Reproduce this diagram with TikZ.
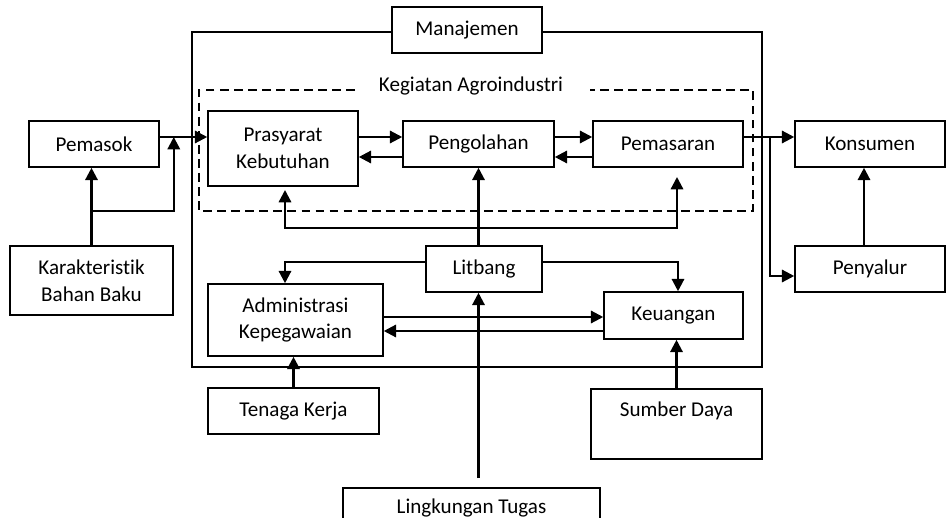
\documentclass[tikz,border=0pt]{standalone}
\usepackage{fontspec}
\setmainfont{Carlito}[Ligatures={NoCommon}]
\usetikzlibrary{arrows.meta}
\begin{document}
\begin{tikzpicture}[x=0.02cm,y=-0.02cm,
  box/.style={draw,line width=0.9pt,fill=white,inner sep=0pt,align=center,
    font=\fontsize{12}{15.2}\selectfont},
  arr/.style={line width=1.3pt,-{Triangle[length=7pt,width=7pt]}},
  frame/.style={line width=0.7pt},
  zone/.style={line width=0.9pt,dash pattern=on 5pt off 3pt}]
\useasboundingbox (0,0) rectangle (946,517);

% management frame and the dashed agro-industry zone
\draw[frame] (192,32) rectangle (762,367);
\draw[zone] (355,90) -- (199,90) -- (199,211) -- (753,211) -- (753,90) -- (590,90);
\node[font=\fontsize{12}{15.2}\selectfont] (zonelabel) at (471,86) {Kegiatan Agroindustri};

% boxes
\node[box,minimum width=3cm,minimum height=0.92cm] (man) at (467,30) {Manajemen};
\node[box,minimum width=3cm,minimum height=1.5cm] (pras) at (283,148.5) {Prasyarat\\Kebutuhan};
\node[box,minimum width=3.02cm,minimum height=0.92cm] (peng) at (478.5,144) {Pengolahan};
\node[box,minimum width=3cm,minimum height=0.92cm] (pemas) at (668,144) {Pemasaran};
\node[box,minimum width=3cm,minimum height=0.92cm] (kons) at (870,144) {Konsumen};
\node[box,minimum width=2.6cm,minimum height=0.92cm] (pem) at (94,144) {Pemasok};
\node[box,minimum width=3.26cm,minimum height=1.38cm] (kar) at (91.5,280.5) {Karakteristik\\Bahan Baku};
\node[box,minimum width=2.32cm,minimum height=0.92cm] (lit) at (484,269) {Litbang};
\node[box,minimum width=3.5cm,minimum height=1.44cm] (adm) at (295.5,320) {Administrasi\\Kepegawaian};
\node[box,minimum width=2.78cm,minimum height=0.94cm] (keu) at (673.5,315.5) {Keuangan};
\node[box,minimum width=3cm,minimum height=0.92cm] (peny) at (870,269) {Penyalur};
\node[box,minimum width=3.42cm,minimum height=0.92cm] (ten) at (293.5,411) {Tenaga Kerja};
\node[box,minimum width=3.42cm,text height=0.56cm,text depth=0.84cm,anchor=north] (sum) at (676.5,388) {Sumber Daya};
\node[box,minimum width=5.14cm,text height=0.52cm,text depth=0.5cm,anchor=north] (ling) at (471.5,487) {Lingkungan Tugas};

% helper rows and columns
\coordinate (rowA) at (0,137);
\coordinate (rowB) at (0,157);
\coordinate (rowPen) at (0,276);
\coordinate (rowL) at (0,262);
\coordinate (rowX) at (0,317);
\coordinate (rowY) at (0,331);
\coordinate (colK) at (864,0);
\coordinate (colA) at (285,0);
\coordinate (colF) at (678,0);
\coordinate (kj) at (91.5,211);
\coordinate (split) at (770,137);
\coordinate (hub) at (478.5,228);
\coordinate (pTip) at (285,190);
\coordinate (mTip) at (677,177);
\coordinate (lingTop) at (478.5,478);

% supply side
\draw[arr] (pem.east |- rowA) -- (pras.west |- rowA);
\draw[arr] (kar.north) -- (kar.north |- pem.south);
\draw[arr] (kj) -| (kar.east |- rowA);

% core activities
\draw[arr] (pras.east |- rowA) -- (peng.west |- rowA);
\draw[arr] (peng.west |- rowB) -- (pras.east |- rowB);
\draw[arr] (peng.east |- rowA) -- (pemas.west |- rowA);
\draw[arr] (pemas.west |- rowB) -- (peng.east |- rowB);

% market side
\draw[arr] (pemas.east |- rowA) -- (kons.west |- rowA);
\draw[arr] (split) |- (peny.west |- rowPen);
\draw[arr] (colK |- peny.north) -- (colK |- kons.south);

% research and development links
\draw[arr] (lit.north -| peng.south) -- (peng.south);
\draw[arr] (hub) -| (pTip);
\draw[arr] (hub) -| (mTip);
\draw[arr] (lit.west |- rowL) -| (colA |- adm.north);
\draw[arr] (lit.east |- rowL) -| (colF |- keu.north);

% administration and finance
\draw[arr] (adm.east |- rowX) -- (keu.west |- rowX);
\draw[arr] (keu.west |- rowY) -- (adm.east |- rowY);
\draw[arr] (ten.north) -- (ten.north |- adm.south);
\draw[arr] (sum.north) -- (sum.north |- keu.south);
\draw[arr] (lingTop) -- (lingTop |- lit.south);
\end{tikzpicture}
\end{document}
